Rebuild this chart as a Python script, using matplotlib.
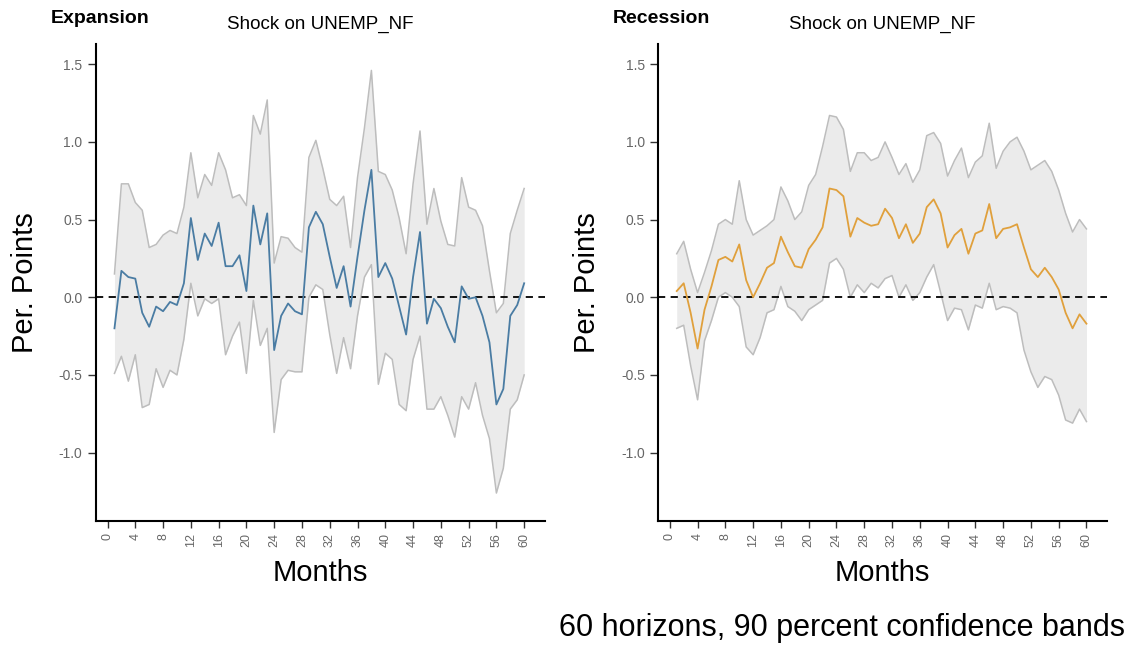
import numpy as np
import matplotlib
matplotlib.use("Agg")
import matplotlib.pyplot as plt

plt.rcParams['font.family'] = ['Liberation Sans', 'DejaVu Sans']

horizons = np.arange(1, 61)

# Expansion regime: impulse response and 90% band
exp_irf = [-0.20, 0.17, 0.13, 0.12, -0.10, -0.19, -0.06, -0.09, -0.03, -0.05,
           0.09, 0.51, 0.24, 0.41, 0.33, 0.48, 0.20, 0.20, 0.27, 0.04,
           0.59, 0.34, 0.54, -0.34, -0.12, -0.04, -0.09, -0.11, 0.45, 0.55,
           0.47, 0.26, 0.06, 0.20, -0.06, 0.26, 0.56, 0.82, 0.13, 0.22,
           0.12, -0.06, -0.24, 0.13, 0.42, -0.17, -0.01, -0.07, -0.19, -0.29,
           0.07, -0.01, 0.00, -0.12, -0.29, -0.69, -0.59, -0.12, -0.05, 0.09]
exp_upper = [0.15, 0.73, 0.73, 0.61, 0.56, 0.32, 0.34, 0.40, 0.43, 0.41,
             0.58, 0.93, 0.64, 0.79, 0.72, 0.93, 0.82, 0.64, 0.66, 0.59,
             1.17, 1.05, 1.27, 0.22, 0.39, 0.38, 0.32, 0.29, 0.90, 1.01,
             0.83, 0.63, 0.59, 0.65, 0.32, 0.77, 1.09, 1.46, 0.81, 0.79,
             0.69, 0.51, 0.28, 0.73, 1.07, 0.47, 0.70, 0.49, 0.34, 0.33,
             0.77, 0.58, 0.56, 0.46, 0.17, -0.10, -0.04, 0.41, 0.56, 0.70]
exp_lower = [-0.49, -0.38, -0.54, -0.37, -0.71, -0.69, -0.46, -0.58, -0.47, -0.50,
             -0.27, 0.09, -0.12, -0.01, -0.04, -0.01, -0.37, -0.25, -0.16, -0.49,
             -0.02, -0.31, -0.20, -0.87, -0.53, -0.47, -0.48, -0.48, 0.00, 0.08,
             0.05, -0.24, -0.49, -0.26, -0.46, -0.12, 0.13, 0.21, -0.56, -0.36,
             -0.40, -0.69, -0.73, -0.40, -0.25, -0.72, -0.72, -0.64, -0.76, -0.90,
             -0.64, -0.72, -0.55, -0.76, -0.91, -1.26, -1.10, -0.72, -0.66, -0.50]

# Recession regime
rec_irf = [0.04, 0.09, -0.10, -0.33, -0.08, 0.07, 0.24, 0.26, 0.23, 0.34,
           0.11, 0.00, 0.09, 0.19, 0.22, 0.39, 0.29, 0.20, 0.19, 0.31,
           0.37, 0.45, 0.70, 0.69, 0.65, 0.39, 0.51, 0.48, 0.46, 0.47,
           0.57, 0.51, 0.38, 0.47, 0.35, 0.41, 0.58, 0.63, 0.54, 0.32,
           0.40, 0.44, 0.28, 0.41, 0.43, 0.60, 0.38, 0.44, 0.45, 0.47,
           0.32, 0.18, 0.13, 0.19, 0.13, 0.05, -0.10, -0.20, -0.11, -0.17]
rec_upper = [0.28, 0.36, 0.18, 0.03, 0.16, 0.30, 0.47, 0.50, 0.47, 0.75,
             0.50, 0.40, 0.43, 0.46, 0.50, 0.71, 0.62, 0.50, 0.55, 0.72,
             0.79, 0.97, 1.17, 1.16, 1.08, 0.81, 0.93, 0.93, 0.88, 0.90,
             1.00, 0.90, 0.79, 0.86, 0.74, 0.82, 1.04, 1.06, 0.99, 0.78,
             0.88, 0.96, 0.77, 0.87, 0.91, 1.12, 0.83, 0.94, 1.00, 1.03,
             0.94, 0.82, 0.85, 0.88, 0.81, 0.69, 0.54, 0.42, 0.50, 0.44]
rec_lower = [-0.20, -0.18, -0.44, -0.66, -0.28, -0.15, 0.00, 0.03, 0.00, -0.06,
             -0.32, -0.37, -0.26, -0.10, -0.08, 0.07, -0.06, -0.09, -0.15, -0.08,
             -0.05, -0.02, 0.22, 0.25, 0.18, 0.00, 0.08, 0.03, 0.09, 0.06,
             0.12, 0.14, 0.00, 0.08, -0.02, 0.03, 0.13, 0.21, 0.03, -0.15,
             -0.07, -0.08, -0.21, -0.05, -0.07, 0.09, -0.08, -0.06, -0.07, -0.10,
             -0.34, -0.48, -0.58, -0.51, -0.53, -0.63, -0.79, -0.81, -0.72, -0.80]

x_ticks = np.arange(0, 61, 4)
y_ticks = [-1.0, -0.5, 0.0, 0.5, 1.0, 1.5]

fig = plt.figure(figsize=(11.3, 6.46), dpi=100)
ax1 = fig.add_axes([0.0847, 0.1935, 0.3976, 0.7384])
ax2 = fig.add_axes([0.5823, 0.1935, 0.3976, 0.7384])

panels = [
    (ax1, "Expansion", exp_irf, exp_upper, exp_lower, "#4a7ca3"),
    (ax2, "Recession", rec_irf, rec_upper, rec_lower, "#e0a03c"),
]

for ax, regime, irf, upper, lower, col in panels:
    ax.fill_between(horizons, lower, upper, color="#ebebeb", lw=0)
    ax.plot(horizons, upper, color="#bdbdbd", lw=1.1)
    ax.plot(horizons, lower, color="#bdbdbd", lw=1.1)
    ax.axhline(0, color="black", ls=(0, (4, 3)), lw=1.3)
    ax.plot(horizons, irf, color=col, lw=1.3)

    ax.set_xlim(-1.7, 63)
    ax.set_ylim(-1.44, 1.63)
    ax.set_xticks(x_ticks)
    ax.set_yticks(y_ticks)
    ax.set_yticklabels([f"{v:.1f}" for v in y_ticks])
    ax.tick_params(axis="x", labelrotation=90, labelsize=9, labelcolor="#666666",
                   length=5, width=1, color="#333333")
    ax.tick_params(axis="y", labelsize=10, labelcolor="#666666",
                   length=6, width=1, color="#333333")
    for side in ["top", "right"]:
        ax.spines[side].set_visible(False)
    for side in ["left", "bottom"]:
        ax.spines[side].set_linewidth(1.5)

    ax.set_xlabel("Months", fontsize=21, labelpad=9)
    ax.set_ylabel("Per. Points", fontsize=21, labelpad=14)

    ax.text(-0.1, 1.035, regime, transform=ax.transAxes, fontsize=14,
            fontweight="bold", ha="left", va="bottom")
    ax.text(0.5, 1.022, "Shock on UNEMP_NF", transform=ax.transAxes,
            fontsize=13.5, ha="center", va="bottom")

fig.text(0.996, 0.028, "60 horizons, 90 percent confidence bands",
         fontsize=22, ha="right", va="center")

fig.savefig("out.png", dpi=100)
